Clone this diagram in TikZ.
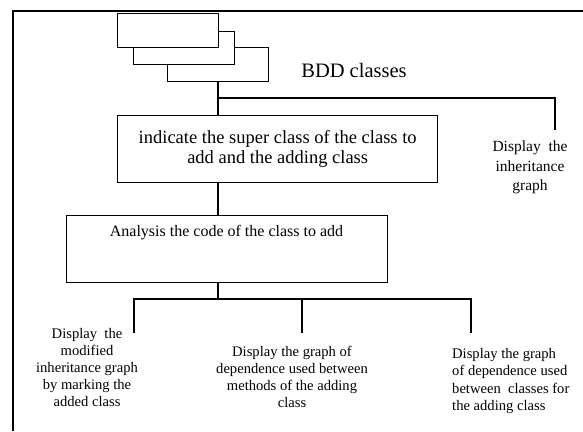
\documentclass[tikz,border=0pt]{standalone}
\usepackage{fontspec}
\setmainfont{Liberation Serif}
\begin{document}
\begin{tikzpicture}[x=1pt,y=-1pt,
  box/.style={draw,line width=1.4pt,fill=white,inner sep=0pt,anchor=north west},
  wire/.style={line width=1.4pt},
  lbl/.style={inner sep=0pt,align=center}]
\useasboundingbox (0,0) rectangle (583,431);
% outer frame
\draw[line width=2pt] (13,431) -- (13,11) -- (583,11);
% stacked class boxes
\node[box,minimum width=101pt,minimum height=34pt] (r3) at (167,47) {};
\node[box,minimum width=101pt,minimum height=33pt] (r2) at (133,31) {};
\node[box,minimum width=101pt,minimum height=34pt] (r1) at (117,13) {};
\node[lbl,font=\fontsize{20.5}{24}\selectfont] (bdd) at (354,70) {BDD classes};
% box 1
\node[box,minimum width=320pt,minimum height=67pt,align=center,
  font=\fontsize{18.5}{20}\selectfont] (b1) at (117,115)
  {indicate the super class of the class to\\add and the adding class};
% box 2
\node[box,minimum width=321pt,minimum height=67pt] (b2) at (66,215) {};
\node[lbl,font=\fontsize{16}{19}\selectfont] (b2t) at (226.5,233) {Analysis the code of the class to add};
% texts
\node[lbl,font=\fontsize{15.5}{19.5}\selectfont] (t0) at (530,167.5) {Display\ \ the\\inheritance\\graph};
\node[lbl,font=\fontsize{14.6}{16.8}\selectfont] (t1) at (87,367.5) {Display\ \ the\\modified\\inheritance graph\\by marking the\\added class};
\node[lbl,font=\fontsize{14.6}{16.8}\selectfont] (t2) at (292,377) {Display the graph of\\dependence used between\\methods of the adding\\class};
\node[lbl,align=left,anchor=west,font=\fontsize{14.6}{17.3}\selectfont] (t3) at (452,381) {Display the graph\\of dependence used\\between\ \ classes for\\the adding class};
% connectors
\coordinate (j1) at (218,98);
\coordinate (e0) at (555,130);
\draw[wire] (r3.south -| j1) -- (j1 |- b1.north);
\draw[wire] (j1) -| (e0);
\draw[wire] (j1 |- b1.south) -- (j1 |- b2.north);
\coordinate (j2) at (218,299);
\coordinate (e1) at (134,333);
\coordinate (e2) at (302,333);
\coordinate (e3) at (471,333);
\draw[wire] (j1 |- b2.south) -- (j2);
\draw[wire] (e1) |- (j2) -| (e3);
\draw[wire] (e2) -- (e2 |- j2);
\end{tikzpicture}
\end{document}
